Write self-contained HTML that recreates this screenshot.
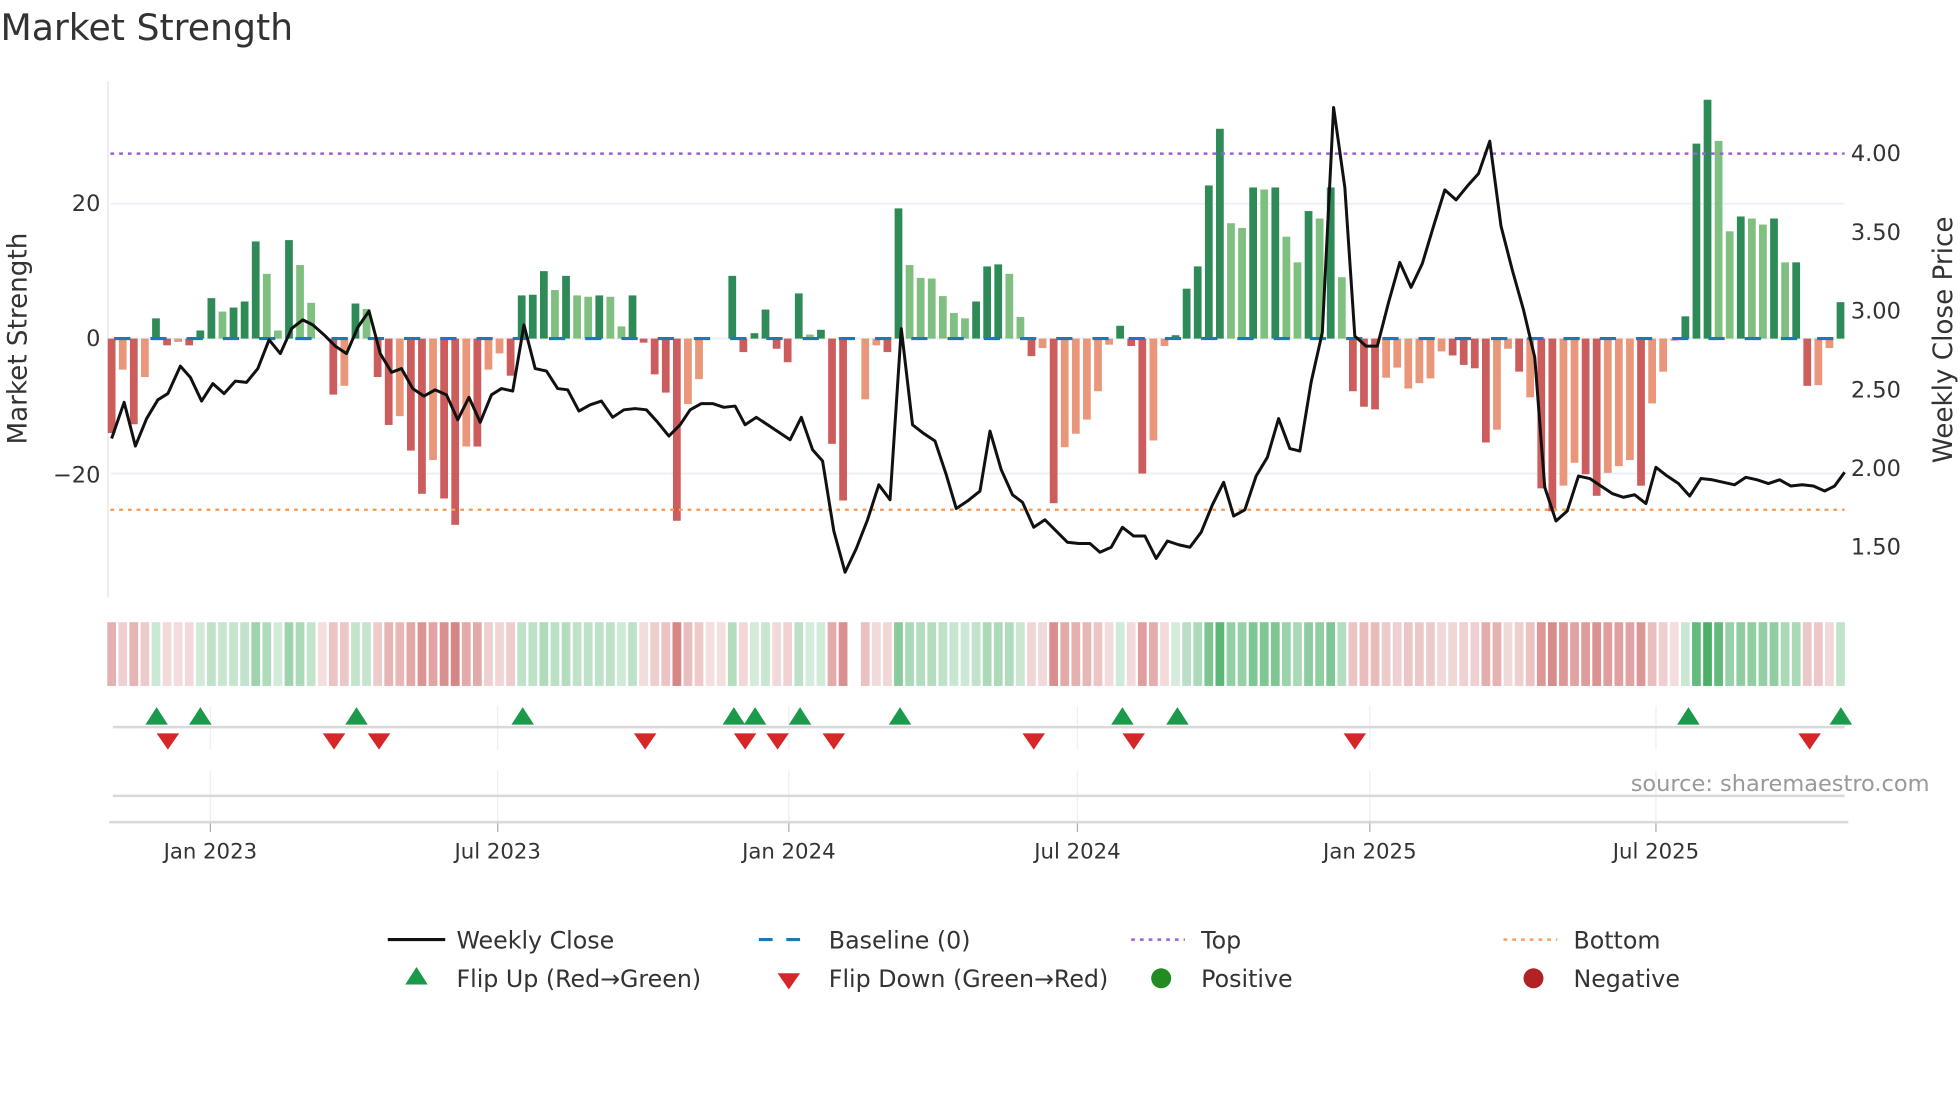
<!DOCTYPE html>
<html><head><meta charset="utf-8"><style>
html,body{margin:0;padding:0;background:#fff;}
svg{display:block;}
text{font-family:"DejaVu Sans","Liberation Sans",sans-serif;}
</style></head><body>
<svg id="s" width="1960" height="1102" viewBox="0 0 1568 882" xmlns="http://www.w3.org/2000/svg">
<rect width="1568" height="882" fill="#fff"/>
<text x="0" y="32" font-size="29" fill="#333">Market Strength</text>
<g id="grid"></g>
<g id="bars"></g>
<g id="over"></g>
</svg>
<script>
var NS="http://www.w3.org/2000/svg";
function el(t,a,p,txt){var e=document.createElementNS(NS,t);for(var k in a)e.setAttribute(k,a[k]);if(txt!==undefined)e.textContent=txt;(p||document.getElementById('over')).appendChild(e);return e;}
var D=[[-14,'r'],[-4.6,'o'],[-12.7,'r'],[-5.7,'o'],[3,'g'],[-1,'r'],[-0.5,'o'],[-1,'r'],[1.2,'g'],[6,'g'],[4,'l'],[4.6,'g'],[5.5,'g'],[14.4,'g'],[9.6,'l'],[1.2,'l'],[14.6,'g'],[10.9,'l'],[5.3,'l'],[0,'l'],[-8.3,'r'],[-7,'o'],[5.2,'g'],[4.4,'l'],[-5.7,'r'],[-12.8,'r'],[-11.5,'o'],[-16.6,'r'],[-23,'r'],[-18,'o'],[-23.7,'r'],[-27.6,'r'],[-16,'o'],[-16,'r'],[-4.6,'o'],[-2.2,'o'],[-5.5,'r'],[6.4,'g'],[6.5,'g'],[10,'g'],[7.2,'l'],[9.3,'g'],[6.4,'l'],[6.2,'l'],[6.4,'g'],[6.2,'l'],[1.8,'l'],[6.4,'g'],[-0.6,'r'],[-5.3,'r'],[-8,'r'],[-27,'r'],[-9.7,'o'],[-6,'o'],[0,'o'],[0,'o'],[9.3,'g'],[-2,'r'],[0.8,'g'],[4.3,'g'],[-1.5,'r'],[-3.5,'r'],[6.7,'g'],[0.6,'l'],[1.3,'g'],[-15.6,'r'],[-24,'r'],[0,'x'],[-9,'o'],[-1,'o'],[-2,'r'],[19.3,'g'],[10.9,'l'],[9,'l'],[8.9,'l'],[6.3,'l'],[3.8,'l'],[3,'l'],[5.5,'g'],[10.7,'g'],[11,'g'],[9.6,'l'],[3.2,'l'],[-2.6,'r'],[-1.4,'o'],[-24.4,'r'],[-16.1,'o'],[-14.1,'o'],[-12,'o'],[-7.8,'o'],[-0.9,'o'],[1.9,'g'],[-1.1,'r'],[-20,'r'],[-15.1,'o'],[-1.1,'o'],[0.5,'g'],[7.4,'g'],[10.7,'g'],[22.7,'g'],[31.1,'g'],[17.1,'l'],[16.4,'l'],[22.4,'g'],[22.1,'l'],[22.4,'g'],[15.1,'l'],[11.3,'l'],[18.9,'g'],[17.8,'l'],[22.4,'g'],[9.1,'l'],[-7.8,'r'],[-10.1,'r'],[-10.5,'r'],[-5.8,'o'],[-4.3,'o'],[-7.4,'o'],[-6.6,'o'],[-5.9,'o'],[-1.9,'o'],[-2.5,'r'],[-3.9,'r'],[-4.4,'r'],[-15.4,'r'],[-13.5,'o'],[-1.5,'o'],[-4.9,'r'],[-8.7,'o'],[-22.2,'r'],[-25.6,'r'],[-21.8,'o'],[-18.4,'o'],[-20.1,'r'],[-23.3,'r'],[-19.9,'o'],[-18.9,'o'],[-18,'o'],[-21.8,'r'],[-9.6,'o'],[-4.9,'o'],[-0.3,'o'],[3.3,'g'],[28.9,'g'],[35.4,'g'],[29.3,'l'],[15.9,'l'],[18.1,'g'],[17.8,'l'],[16.9,'l'],[17.8,'g'],[11.3,'l'],[11.3,'g'],[-7,'r'],[-6.9,'o'],[-1.4,'o'],[5.4,'g']];
var C={g:'#2e8b57',l:'#7fbf7f',r:'#cd5c5c',o:'#e9967a',x:'#fff'};
var g=document.getElementById('grid'),b=document.getElementById('bars');
[163,271,379].forEach(function(y){el('line',{x1:88,x2:1476,y1:y,y2:y,stroke:'#eceff3','stroke-width':1.5},g);});
el('line',{x1:86,x2:86,y1:65,y2:478,stroke:'#e6e8ec','stroke-width':1.2},g);
var dates=[[168,'Jan 2023'],[398,'Jul 2023'],[631,'Jan 2024'],[862,'Jul 2024'],[1096,'Jan 2025'],[1325,'Jul 2025']];
dates.forEach(function(d){
 el('line',{x1:d[0],x2:d[0],y1:565,y2:600,stroke:'#eceff3','stroke-width':1},g);
 el('line',{x1:d[0],x2:d[0],y1:617,y2:658,stroke:'#eceff3','stroke-width':1},g);
 el('line',{x1:d[0],x2:d[0],y1:658,y2:666,stroke:'#aaa','stroke-width':1},g);
 el('text',{x:d[0],y:687,'font-size':17,fill:'#333','text-anchor':'middle'},g,d[1]);
});
el('line',{x1:90,x2:1476,y1:582,y2:582,stroke:'#d8d9dc','stroke-width':2},g);
el('line',{x1:90,x2:1476,y1:637,y2:637,stroke:'#d8d9dc','stroke-width':2},g);
el('line',{x1:87,x2:1479,y1:658,y2:658,stroke:'#d8d9dc','stroke-width':2},g);
D.forEach(function(d,i){
 var x=89+i*8.87,v=d[0];
 if(d[1]!=='x'&&v!==0){var h=Math.abs(v)*5.4;el('rect',{x:x-3.1,y:v>0?271-h:271,width:6.2,height:h,fill:C[d[1]]},b);}
 if(d[1]!=='x'){
  var a=Math.min(0.92,0.2+Math.abs(v)/36*0.7);
  var col=v>0?'rgba(52,165,84,'+a+')':'rgba(200,88,88,'+a+')';
  el('rect',{x:x-3.5,y:498,width:7,height:51,fill:col},b);
 }
});
el('line',{x1:88,x2:1476,y1:123,y2:123,stroke:'#9a5fd6','stroke-width':2,'stroke-dasharray':'3 4'});
el('line',{x1:88,x2:1476,y1:408,y2:408,stroke:'#f0a060','stroke-width':2,'stroke-dasharray':'3 4'});
el('line',{x1:91,x2:1476,y1:271,y2:271,stroke:'#1f77b4','stroke-width':2.5,'stroke-dasharray':'13 16'});
var P=[[89,351],[99,322],[108,357],[117,335],[126,320],[134,315],[144,293],[152,302],[161,321],[170,307],[179,315],[188,305],[197,306],[206,295],[215,272],[224,283],[233,263],[242,256],[250,260],[259,268],[268,277],[277,283],[286,262],[295,249],[304,283],[313,298],[321,295],[330,311],[339,317],[348,312],[357,316],[366,336],[375,318],[384,338],[393,316],[401,311],[410,313],[419,260],[428,295],[437,297],[446,311],[454,312],[463,329],[472,324],[481,321],[490,334],[499,328],[508,327],[517,328],[526,338],[535,349],[544,340],[552,328],[561,323],[570,323],[579,326],[588,325],[596,340],[605,334],[614,340],[623,346],[632,352],[641,334],[650,360],[658,369],[667,425],[676,458],[685,439],[694,416],[703,388],[712,400],[721,263],[730,340],[739,347],[748,353],[757,380],[765,407],[774,401],[784,393],[792,345],[801,376],[810,396],[818,402],[827,422],[836,416],[845,425],[854,434],[863,435],[872,435],[880,442],[889,438],[898,422],[907,429],[916,429],[925,447],[934,433],[943,436],[952,438],[961,426],[970,404],[979,386],[987,413],[996,408],[1005,381],[1014,366],[1023,335],[1032,359],[1040,361],[1049,306],[1058,266],[1067,86],[1076,150],[1084,269],[1093,277],[1102,277],[1111,242],[1120,210],[1129,230],[1138,211],[1147,181],[1156,152],[1165,160],[1174,149],[1183,139],[1192,113],[1201,181],[1210,216],[1219,248],[1228,286],[1236,390],[1245,417],[1254,409],[1263,381],[1272,383],[1281,389],[1290,395],[1299,398],[1308,396],[1317,403],[1325,374],[1334,381],[1343,387],[1352,397],[1361,383],[1370,384],[1379,386],[1388,388],[1397,382],[1406,384],[1415,387],[1424,384],[1433,389],[1442,388],[1451,389],[1460,393],[1468,389],[1476,378]];
el('polyline',{points:P.map(function(p){return p.join(',')}).join(' '),fill:'none',stroke:'#111','stroke-width':2.4,'stroke-linejoin':'round'});
[[163,'20'],[271,'0'],[380,'\u221220']].forEach(function(t){el('text',{x:80,y:t[0]+6,'font-size':18,fill:'#333','text-anchor':'end'},null,t[1]);});
[[123,'4.00'],[186,'3.50'],[249,'3.00'],[312,'2.50'],[375,'2.00'],[438,'1.50']].forEach(function(t){el('text',{x:1481,y:t[0]+6,'font-size':18,fill:'#333'},null,t[1]);});
el('text',{x:0,y:0,'font-size':21,fill:'#333','text-anchor':'middle',transform:'translate(21,271) rotate(-90)'},null,'Market Strength');
el('text',{x:0,y:0,'font-size':21,fill:'#333','text-anchor':'middle',transform:'translate(1562,272) rotate(-90)'},null,'Weekly Close Price');
function up(x,y,c){el('polygon',{points:(x-9)+','+(y+7)+' '+(x+9)+','+(y+7)+' '+x+','+(y-7),fill:c||'#1a9a4a'});}
function dn(x,y,c){el('polygon',{points:(x-9)+','+(y-6)+' '+(x+9)+','+(y-6)+' '+x+','+(y+7),fill:c||'#d62728'});}
[125,160,285,418,587,604,640,720,898,942,1351,1473].forEach(function(x){up(x,573);});
[134,267,303,516,596,622,667,827,907,1084,1448].forEach(function(x){dn(x,593);});
el('text',{x:1544,y:633,'font-size':18,fill:'#999','text-anchor':'end'},null,'source: sharemaestro.com');
el('line',{x1:310,x2:356,y1:752,y2:752,stroke:'#111','stroke-width':2.5});
el('line',{x1:607,x2:650,y1:752,y2:752,stroke:'#1f77b4','stroke-width':2.5,'stroke-dasharray':'11 11'});
el('line',{x1:905,x2:948,y1:752,y2:752,stroke:'#9a5fd6','stroke-width':2,'stroke-dasharray':'3 4'});
el('line',{x1:1203,x2:1246,y1:752,y2:752,stroke:'#f0a060','stroke-width':2,'stroke-dasharray':'3 4'});
up(333,781);dn(631,785);
el('circle',{cx:929,cy:783,r:8,fill:'#228b22'});
el('circle',{cx:1227,cy:783,r:8,fill:'#b22222'});
[[365,759,'Weekly Close'],[663,759,'Baseline (0)'],[961,759,'Top'],[1259,759,'Bottom'],[365,790,'Flip Up (Red\u2192Green)'],[663,790,'Flip Down (Green\u2192Red)'],[961,790,'Positive'],[1259,790,'Negative']].forEach(function(t){el('text',{x:t[0],y:t[1],'font-size':19,fill:'#333'},null,t[2]);});
</script>
</body></html>
